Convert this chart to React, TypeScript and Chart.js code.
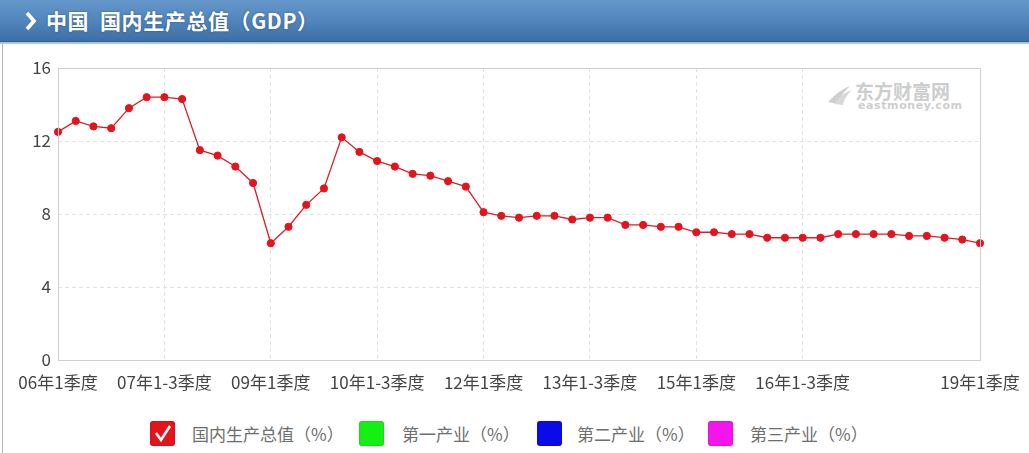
import React, { useEffect, useRef } from "react";
import { Chart, registerables } from "chart.js";

Chart.register(...registerables);

const categories = [
  "06年1季度", "06年1-2季度", "06年1-3季度", "06年1-4季度",
  "07年1季度", "07年1-2季度", "07年1-3季度", "07年1-4季度",
  "08年1季度", "08年1-2季度", "08年1-3季度", "08年1-4季度",
  "09年1季度", "09年1-2季度", "09年1-3季度", "09年1-4季度",
  "10年1季度", "10年1-2季度", "10年1-3季度", "10年1-4季度",
  "11年1季度", "11年1-2季度", "11年1-3季度", "11年1-4季度",
  "12年1季度", "12年1-2季度", "12年1-3季度", "12年1-4季度",
  "13年1季度", "13年1-2季度", "13年1-3季度", "13年1-4季度",
  "14年1季度", "14年1-2季度", "14年1-3季度", "14年1-4季度",
  "15年1季度", "15年1-2季度", "15年1-3季度", "15年1-4季度",
  "16年1季度", "16年1-2季度", "16年1-3季度", "16年1-4季度",
  "17年1季度", "17年1-2季度", "17年1-3季度", "17年1-4季度",
  "18年1季度", "18年1-2季度", "18年1-3季度", "18年1-4季度",
  "19年1季度",
];

const gdpGrowth = [
  12.5, 13.1, 12.8, 12.7, 13.8, 14.4, 14.4, 14.3, 11.5, 11.2, 10.6, 9.7,
  6.4, 7.3, 8.5, 9.4, 12.2, 11.4, 10.9, 10.6, 10.2, 10.1, 9.8, 9.5,
  8.1, 7.9, 7.8, 7.9, 7.9, 7.7, 7.8, 7.8, 7.4, 7.4, 7.3, 7.3,
  7.0, 7.0, 6.9, 6.9, 6.7, 6.7, 6.7, 6.7, 6.9, 6.9, 6.9, 6.9,
  6.8, 6.8, 6.7, 6.6, 6.4,
];

const shownXLabels = [
  "06年1季度", "07年1-3季度", "09年1季度", "10年1-3季度", "12年1季度",
  "13年1-3季度", "15年1季度", "16年1-3季度", "19年1季度",
];

const yMin = 0;
const yMax = 16;
const yStep = 4;

const title = "中国  国内生产总值（GDP）";
const legendLabels = ["国内生产总值（%）", "第一产业（%）", "第二产业（%）", "第三产业（%）"];
const legendColors = ["#e3141c", "#14f014", "#0b0be8", "#f414ec"];
const legendChecked = [true, false, false, false];
const legendBoxX = [150, 359, 537, 708];
const legendTextX = [192, 402, 577, 750];

const FONT = "'Noto Sans CJK SC', 'Noto Sans', sans-serif";

const framePlugin = {
  id: "frame",
  afterDraw(chart: any) {
    const { ctx, chartArea } = chart;
    ctx.save();
    ctx.strokeStyle = "#cfcfcf";
    ctx.lineWidth = 1;
    ctx.strokeRect(
      Math.round(chartArea.left) + 0.5,
      Math.round(chartArea.top) + 0.5,
      Math.round(chartArea.right - chartArea.left),
      Math.round(chartArea.bottom - chartArea.top)
    );
    ctx.restore();
  },
};

export default function App() {
  const canvasRef = useRef<HTMLCanvasElement | null>(null);

  useEffect(() => {
    if (!canvasRef.current) return;
    const isShown = (i: number) => shownXLabels.includes(categories[i]);
    const chart = new Chart(canvasRef.current, {
      type: "line",
      data: {
        labels: categories,
        datasets: [
          {
            label: legendLabels[0],
            data: gdpGrowth,
            borderColor: "#dc1e26",
            backgroundColor: "#e3141c",
            borderWidth: 1.3,
            pointRadius: 3.6,
            pointBackgroundColor: "#e3141c",
            pointBorderColor: "#e3141c",
            pointBorderWidth: 1,
            tension: 0,
          },
        ],
      },
      options: {
        animation: false,
        responsive: false,
        maintainAspectRatio: false,
        layout: { padding: { top: 24, right: 49, left: 0, bottom: 0 } },
        plugins: {
          legend: { display: false },
          tooltip: { enabled: false },
        },
        scales: {
          x: {
            type: "category",
            offset: false,
            afterFit: (s: any) => {
              s.height = 40;
              s.paddingLeft = 0;
              s.paddingRight = 0;
            },
            border: { display: false, dash: [4, 3] },
            grid: {
              drawTicks: false,
              color: (c: any) => (c.index !== undefined && isShown(c.index) ? "#e2e2e2" : "rgba(0,0,0,0)"),
              lineWidth: 1,
            },
            ticks: {
              autoSkip: false,
              maxRotation: 0,
              minRotation: 0,
              padding: 12,
              color: "#444",
              font: { family: FONT, size: 17 },
              callback: (_v: any, i: number) => (isShown(i) ? categories[i] : ""),
            },
          },
          y: {
            min: yMin,
            max: yMax,
            afterFit: (s: any) => {
              s.width = 58;
            },
            border: { display: false, dash: [4, 3] },
            grid: {
              drawTicks: false,
              color: "#e2e2e2",
              lineWidth: 1,
            },
            ticks: {
              stepSize: yStep,
              padding: 7,
              color: "#444",
              font: { family: FONT, size: 17 },
            },
          },
        },
      },
      plugins: [framePlugin],
    } as any);
    return () => chart.destroy();
  }, []);

  return (
    <div
      style={{
        position: "absolute",
        left: 0,
        top: 0,
        width: 1029,
        height: 453,
        background: "#ffffff",
        overflow: "hidden",
        fontFamily: FONT,
      }}
    >
      {/* header */}
      <div
        style={{
          position: "absolute",
          left: 0,
          top: 0,
          width: 1029,
          height: 41,
          background: "linear-gradient(#6597ca, #4f83ba 55%, #3c6fa6)",
          borderBottom: "1px solid #2e5c8c",
        }}
      />
      <div
        style={{
          position: "absolute",
          left: 0,
          top: 42,
          width: 1029,
          height: 2,
          background: "#a9c6de",
        }}
      />
      <svg style={{ position: "absolute", left: 24, top: 11 }} width={14} height={20}>
        <polyline points="3,2 10,10 3,18" fill="none" stroke="#ffffff" strokeWidth={3.6} />
      </svg>
      <div
        style={{
          position: "absolute",
          left: 46,
          top: 5,
          height: 30,
          lineHeight: "30px",
          fontSize: 21,
          fontWeight: 700,
          color: "#ffffff",
          whiteSpace: "pre",
          letterSpacing: "0.6px",
          textShadow: "0 0 2px rgba(20,50,90,0.6)",
          fontFamily: "'Noto Sans CJK SC', sans-serif",
        }}
      >
        {title}
      </div>
      {/* left frame line */}
      <div style={{ position: "absolute", left: 2, top: 44, width: 1, height: 409, background: "#b5b5b5" }} />

      {/* watermark */}
      <svg style={{ position: "absolute", left: 826, top: 84 }} width={28} height={22}>
        <path d="M2,18 C8,12 14,6 24,2 C18,8 14,12 12,20 Z" fill="#cfcfcf" />
        <path d="M8,20 C12,14 17,9 26,6 C21,11 18,15 17,21 Z" fill="#d8d8d8" />
      </svg>
      <div
        style={{
          position: "absolute",
          left: 855,
          top: 80,
          fontSize: 19,
          fontWeight: 700,
          color: "#cdcdcd",
          lineHeight: "22px",
          whiteSpace: "nowrap",
        }}
      >
        东方财富网
      </div>
      <div
        style={{
          position: "absolute",
          left: 858,
          top: 100,
          fontSize: 11,
          fontWeight: 700,
          color: "#cdcdcd",
          lineHeight: "12px",
          letterSpacing: "0.6px",
          fontFamily: "'DejaVu Sans', sans-serif",
          whiteSpace: "nowrap",
        }}
      >
        eastmoney.com
      </div>

      <canvas
        ref={canvasRef}
        width={1029}
        height={356}
        style={{ position: "absolute", left: 0, top: 44, width: 1029, height: 356 }}
      />

      {/* legend */}
      {legendLabels.map((lab, i) => (
        <React.Fragment key={lab}>
          <div
            style={{
              position: "absolute",
              left: legendBoxX[i],
              top: 421,
              width: 25,
              height: 25,
              borderRadius: 3,
              background: legendColors[i],
              boxShadow: "inset 0 0 2px rgba(0,0,0,0.25)",
            }}
          >
            {legendChecked[i] ? (
              <svg width={25} height={25} style={{ position: "absolute", left: 0, top: 0 }}>
                <polyline points="6,12 11,19 20,5" fill="none" stroke="#ffffff" strokeWidth={2.6} />
              </svg>
            ) : null}
          </div>
          <div
            style={{
              position: "absolute",
              left: legendTextX[i],
              top: 422,
              lineHeight: "24px",
              fontSize: 17,
              color: "#6e6e6e",
              whiteSpace: "nowrap",
            }}
          >
            {lab}
          </div>
        </React.Fragment>
      ))}
    </div>
  );
}
